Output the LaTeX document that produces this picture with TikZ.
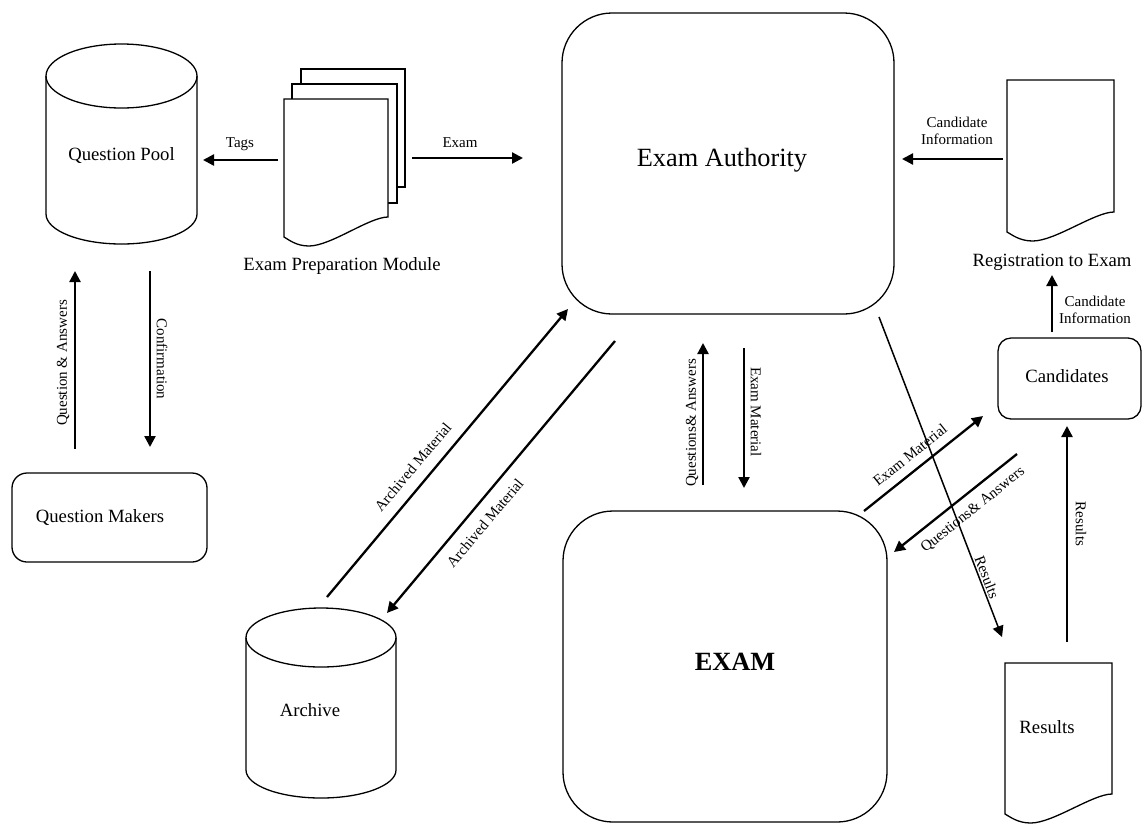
\documentclass[tikz,border=0pt]{standalone}
\usepackage{fontspec}
\setmainfont{Liberation Serif}
\usetikzlibrary{arrows.meta}

\tikzset{
  outline/.style={line width=1.3pt, fill=white},
  flow/.style={line width=2.3pt, -{Triangle[length=11pt,width=11pt]}},
  bigtext/.style={font=\fontsize{18.7}{22}\selectfont, inner sep=0pt},
  smalltext/.style={font=\fontsize{15}{17}\selectfont, inner sep=0pt, align=center},
  titletext/.style={font=\fontsize{26.3}{30}\selectfont, inner sep=0pt},
  roundbox/.style={draw, line width=1.3pt, inner sep=0pt, fill=white},
}

% document sheet with a wavy lower edge: left, top, right, lower-right y (y counted downwards)
\newcommand\docpage[4]{%
  \draw[outline] (#1,-#2) -- (#3,-#2) -- (#3,-#4)
    .. controls ({#3-0.18*(#3-#1)},-#4) and ({#1+0.45*(#3-#1)},{-(#4+29)}) .. ({#1+0.24*(#3-#1)},{-(#4+29)})
    .. controls ({#1+0.12*(#3-#1)},{-(#4+29)}) and ({#1+0.05*(#3-#1)},{-(#4+23)}) .. (#1,{-(#4+20)}) -- cycle;}

\begin{document}
\begin{tikzpicture}[x=1pt,y=1pt]
\useasboundingbox (0,0) rectangle (1142,-823);

% ---------- Question Pool (cylinder) ----------
\draw[outline] (46,-76) -- (46,-214) arc[start angle=180,end angle=360,x radius=75.5pt,y radius=30pt] -- (197,-76);
\draw[line width=1.3pt] (121.5,-76) ellipse [x radius=75.5pt, y radius=32pt];
\node[bigtext] (pool) at (121.5,-156) {Question Pool};

% ---------- Archive (cylinder) ----------
\draw[outline] (246,-637.5) -- (246,-770) arc[start angle=180,end angle=360,x radius=75pt,y radius=28pt] -- (396,-637.5);
\draw[line width=1.3pt] (321,-637.5) ellipse [x radius=75pt, y radius=29.5pt];
\node[bigtext] (archive) at (310,-710) {Archive};

% ---------- Exam Preparation Module (stack of sheets) ----------
\draw[outline] (301,-69) rectangle (405,-187);
\draw[outline] (292,-84) rectangle (397,-203);
\docpage{284}{99}{388}{217}
\node[bigtext] (prep) at (342,-266) {Exam Preparation Module};

% ---------- Registration to Exam ----------
\docpage{1007}{80}{1114}{212}
\node[bigtext] (reg) at (1052,-262) {Registration to Exam};

% ---------- Results sheet ----------
\docpage{1005}{663}{1112}{794}
\node[bigtext] (results) at (1047,-727) {Results};

% ---------- rounded boxes ----------
\node[roundbox, rounded corners=50pt, minimum width=332pt, minimum height=301pt] (authority) at (728,-163.5) {};
\node[titletext] (authoritytext) at (722,-160) {Exam Authority};

\node[roundbox, rounded corners=50pt, minimum width=324pt, minimum height=311pt] (exam) at (725,-666.5) {};
\node[titletext, font=\fontsize{26.3}{30}\selectfont\bfseries] (examtext) at (735,-662) {EXAM};

\node[roundbox, rounded corners=13pt, minimum width=143pt, minimum height=81pt] (cand) at (1069.5,-378.5) {};
\node[bigtext] (candtext) at (1067,-376) {Candidates};

\node[roundbox, rounded corners=15pt, minimum width=195pt, minimum height=89pt] (makers) at (109.5,-517.5) {};
\node[bigtext] (makerstext) at (100,-518) {Question Makers};

% ---------- connector end points ----------
\coordinate (tagsA) at (278,-160);   \coordinate (tagsB) at (203,-160);
\coordinate (examA) at (412,-158);   \coordinate (examB) at (523,-158);
\coordinate (ciA) at (1003,-159);    \coordinate (ciB) at (902,-159);
\coordinate (ci2A) at (1052,-332);   \coordinate (ci2B) at (1052,-275);
\coordinate (resA) at (1067,-642);   \coordinate (resB) at (1067,-426);
\coordinate (rdA) at (879,-317);     \coordinate (rdB) at (1002,-637);
\coordinate (emdA) at (864,-511);    \coordinate (emdB) at (983,-416);
\coordinate (qadA) at (1017,-454);   \coordinate (qadB) at (894,-552);
\coordinate (qavA) at (703,-485);    \coordinate (qavB) at (703,-343);
\coordinate (emvA) at (744,-348);    \coordinate (emvB) at (744,-488);
\coordinate (arcA) at (327,-597);    \coordinate (arcB) at (568,-309);
\coordinate (ardA) at (615,-341);    \coordinate (ardB) at (387,-613);
\coordinate (qmA) at (75,-449);      \coordinate (qmB) at (75,-271);
\coordinate (cfA) at (150,-271);     \coordinate (cfB) at (150,-447);

% ---------- connectors ----------
\draw[flow] (tagsA) -- (tagsB);
\draw[flow] (examA) -- (examB);
\draw[flow] (ciA) -- (ciB);
\draw[flow] (ci2A) -- (ci2B);
\draw[flow] (resA) -- (resB);
\draw[flow, line width=1.5pt] (rdA) -- (rdB);
\draw[flow] (emdA) -- (emdB);
\draw[flow] (qadA) -- (qadB);
\draw[flow] (qavA) -- (qavB);
\draw[flow] (emvA) -- (emvB);
\draw[flow] (arcA) -- (arcB);
\draw[flow] (ardA) -- (ardB);
\draw[flow] (qmA) -- (qmB);
\draw[flow] (cfA) -- (cfB);

% ---------- connector labels ----------
\node[smalltext] (l-tags) at (240,-144) {Tags};
\node[smalltext] (l-exam) at (460,-143) {Exam};
\node[smalltext] (l-ci) at (957,-131) {Candidate\\Information};
\node[smalltext] (l-ci2) at (1095,-310) {Candidate\\Information};
\node[smalltext, rotate=-90] (l-res) at (1081,-524) {Results};
\node[smalltext, rotate=-69] (l-rd) at (987,-577) {Results};
\node[smalltext, rotate=38.6] (l-emd) at (910,-455) {Exam Material};
\node[smalltext, rotate=38.6] (l-qad) at (973,-510) {Questions\& Answers};
\node[smalltext, rotate=90] (l-qav) at (692,-423) {Questions\& Answers};
\node[smalltext, rotate=-90] (l-emv) at (756,-412) {Exam Material};
\node[smalltext, rotate=50] (l-arc) at (413,-467) {Archived Material};
\node[smalltext, rotate=50] (l-ard) at (485,-523) {Archived Material};
\node[smalltext, rotate=90] (l-qm) at (63,-363) {Question \& Answers};
\node[smalltext, rotate=-90] (l-cf) at (162,-359) {Confirmation};
\end{tikzpicture}
\end{document}
